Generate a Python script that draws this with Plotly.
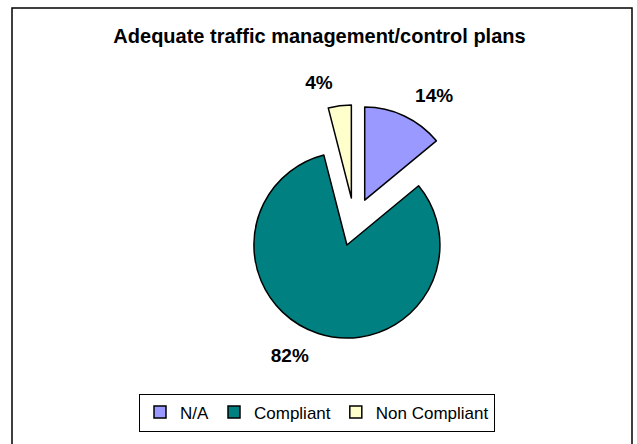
import plotly.graph_objects as go

labels = ["N/A", "Compliant", "Non Compliant"]
values = [14, 82, 4]
colors = ["#9999FF", "#008080", "#FFFFCC"]
title_text = "Adequate traffic management/control plans"

W, H = 637, 444
FONT = "Liberation Sans, Arial, sans-serif"

# pie geometry (pixels): centre, radius, explode distance
cx, cy = 354.4, 222.0
r1, explode = 93.0, 24.2
pull1 = explode / r1
half1 = r1 * (1 + pull1)
# label ring (transparent copy used only to carry the outside labels further out)
r2 = 106.0
pull2 = explode / r2
half2 = r2 * (1 + pull2)


def dom(half):
    return dict(x=[(cx - half) / W, (cx + half) / W],
                y=[1 - (cy + half) / H, 1 - (cy - half) / H])


fig = go.Figure()
fig.add_trace(
    go.Pie(
        labels=labels,
        values=values,
        sort=False,
        direction="clockwise",
        rotation=0,
        pull=[pull1] * len(values),
        marker=dict(colors=colors, line=dict(color="black", width=1.5)),
        textinfo="none",
        domain=dom(half1),
        hoverinfo="skip",
        showlegend=True,
    )
)
fig.add_trace(
    go.Pie(
        labels=labels,
        values=values,
        sort=False,
        direction="clockwise",
        rotation=0,
        pull=[pull2] * len(values),
        marker=dict(colors=["rgba(0,0,0,0)"] * len(values),
                    line=dict(color="rgba(0,0,0,0)", width=0)),
        texttemplate="%{percent:.0%}",
        textposition="outside",
        textfont=dict(family=FONT, size=19, color="black", weight="bold"),
        domain=dom(half2),
        hoverinfo="skip",
        showlegend=False,
    )
)

fig.update_layout(
    width=W,
    height=H,
    margin=dict(l=0, r=0, t=0, b=0),
    paper_bgcolor="white",
    plot_bgcolor="white",
    font=dict(family=FONT, color="black"),
    title=dict(
        text="<b>" + title_text + "</b>",
        x=319.5 / W,
        xanchor="center",
        y=1 - 36 / H,
        yanchor="middle",
        font=dict(size=20, family=FONT, color="black"),
    ),
    legend=dict(
        orientation="h",
        x=317 / W,
        xanchor="center",
        y=1 - 412.5 / H,
        yanchor="middle",
        bordercolor="black",
        borderwidth=1,
        font=dict(size=17, family=FONT, color="black"),
        itemwidth=30,
        traceorder="normal",
    ),
    shapes=[
        dict(
            type="rect",
            xref="paper",
            yref="paper",
            x0=12 / W,
            x1=632 / W,
            y0=-0.02,
            y1=1 - 8 / H,
            line=dict(color="black", width=1.5),
            fillcolor="rgba(0,0,0,0)",
            layer="below",
        )
    ],
)

fig.write_html(
    "out.html",
    config={"displayModeBar": False},
    post_script="document.body.style.margin='0px';document.body.style.overflow='hidden';",
)
